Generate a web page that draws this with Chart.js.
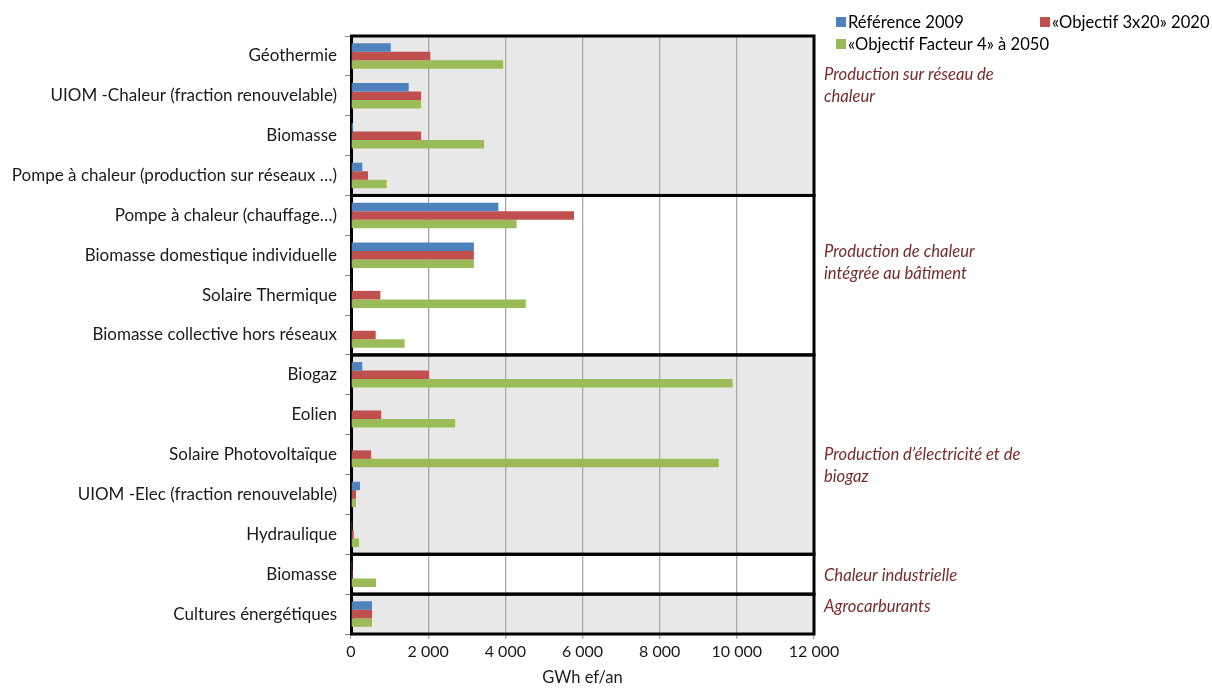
<!DOCTYPE html>
<html>
<head>
<meta charset="utf-8">
<script src="https://cdn.jsdelivr.net/npm/chart.js@4.4.1/dist/chart.umd.min.js"></script>
<style>
  html, body { margin: 0; padding: 0; background: #ffffff; }
  #wrap { width: 1212px; height: 688px; position: relative; }
</style>
</head>
<body>
<div id="wrap"><canvas id="chart" width="1212" height="688"></canvas></div>
<script>
// Energy categories (top to bottom)
const categories = [
  'Géothermie',
  'UIOM -Chaleur (fraction renouvelable)',
  'Biomasse',
  'Pompe à chaleur (production sur réseaux …)',
  'Pompe à chaleur (chauffage…)',
  'Biomasse domestique individuelle',
  'Solaire Thermique',
  'Biomasse collective hors réseaux',
  'Biogaz',
  'Eolien',
  'Solaire Photovoltaïque',
  'UIOM -Elec (fraction renouvelable)',
  'Hydraulique',
  'Biomasse',
  'Cultures énergétiques'
];

// GWh ef/an per scenario
const reference2009 = [1030, 1495, 50, 293, 3820, 3185, 25, 20, 293, 0, 20, 233, 30, 30, 545];
const objectif2020  = [2055, 1815, 1815, 440, 5780, 3185, 760, 640, 2020, 780, 520, 130, 70, 40, 545];
const facteur2050   = [3945, 1815, 3450, 925, 4290, 3185, 4530, 1390, 9890, 2700, 9530, 130, 207, 650, 545];

const seriesLabels = ['Référence 2009', '«Objectif 3x20» 2020', '«Objectif Facteur 4» à 2050'];

// x axis ticks
const xTicks = [0, 2000, 4000, 6000, 8000, 10000, 12000];

// Sector groups: name lines and number of categories in each group
const groupNames = [
  ['Production sur réseau de', 'chaleur'],
  ['Production de chaleur', 'intégrée au bâtiment'],
  ['Production d’électricité et de', 'biogaz'],
  ['Chaleur industrielle'],
  ['Agrocarburants']
];
const groupSizes = [4, 4, 5, 1, 1];

// ---- styling ----
const FONT = 'Lato, "Open Sans", "Liberation Sans", sans-serif';
const COLORS = ['#4f81bd', '#c0504d', '#9bbb59'];
const GROUP_FILLS = ['#e8e8e8', '#ffffff', '#e8e8e8', '#ffffff', '#e8e8e8'];
// vertical offset of each group caption's first line from the group top, in px
const CAPTION_OFFSETS = [39, 56, 100, 21, 13];

function fmt(v) {
  return String(v).replace(/\B(?=(\d{3})+(?!\d))/g, '\u00a0');
}

function groupRanges(yScale) {
  const ranges = [];
  const step = yScale.getPixelForValue(1) - yScale.getPixelForValue(0);
  let start = 0;
  groupSizes.forEach((n, i) => {
    const top = yScale.getPixelForValue(start) - step / 2;
    const bottom = yScale.getPixelForValue(start + n - 1) + step / 2;
    ranges.push({ top, bottom, i });
    start += n;
  });
  return ranges;
}

const groupPlugin = {
  id: 'groups',
  beforeDraw(chart) {
    const { ctx } = chart;
    const x = chart.scales.x, y = chart.scales.y;
    const left = x.getPixelForValue(0), right = x.getPixelForValue(12000);
    ctx.save();
    groupRanges(y).forEach(r => {
      ctx.fillStyle = GROUP_FILLS[r.i];
      ctx.fillRect(left, r.top, right - left, r.bottom - r.top);
    });
    ctx.restore();
  },
  beforeDatasetsDraw(chart) {
    const { ctx } = chart;
    const x = chart.scales.x, y = chart.scales.y;
    const left = x.getPixelForValue(0), right = x.getPixelForValue(12000);
    ctx.save();
    ctx.strokeStyle = '#000000';
    ctx.lineWidth = 3;
    groupRanges(y).forEach(r => {
      ctx.strokeRect(left + 0.5, r.top, right - left - 0.5, r.bottom - r.top);
    });
    ctx.restore();
  },
  afterDraw(chart) {
    const { ctx } = chart;
    const x = chart.scales.x, y = chart.scales.y;
    const right = x.getPixelForValue(12000);
    ctx.save();
    // group captions
    ctx.font = 'italic 16.6px ' + FONT;
    ctx.fillStyle = '#772b2b';
    ctx.textBaseline = 'middle';
    ctx.textAlign = 'left';
    groupRanges(y).forEach(r => {
      groupNames[r.i].forEach((line, k) => {
        ctx.fillText(line, right + 10, r.top + CAPTION_OFFSETS[r.i] + k * 22);
      });
    });
    // legend
    ctx.font = '16.6px ' + FONT;
    const items = [
      { x: 836, y: 22 },
      { x: 1040, y: 22 },
      { x: 836, y: 44 }
    ];
    chart.data.datasets.forEach((ds, i) => {
      const p = items[i];
      ctx.fillStyle = ds.backgroundColor;
      ctx.fillRect(p.x, p.y - 5, 10, 10);
      ctx.fillStyle = '#000000';
      ctx.fillText(ds.label, p.x + 12, p.y + 1);
    });
    ctx.restore();
  }
};

new Chart(document.getElementById('chart'), {
  type: 'bar',
  data: {
    labels: categories,
    datasets: [reference2009, objectif2020, facteur2050].map((d, i) => ({
      label: seriesLabels[i],
      data: d,
      backgroundColor: COLORS[i],
      borderWidth: 0,
      barPercentage: 1,
      categoryPercentage: 0.64
    }))
  },
  options: {
    indexAxis: 'y',
    responsive: false,
    animation: false,
    layout: { padding: { top: 36, right: 398, bottom: 0, left: 0 } },
    plugins: { legend: { display: false }, tooltip: { enabled: false } },
    scales: {
      x: {
        min: 0,
        max: 12000,
        afterBuildTicks(scale) { scale.ticks = xTicks.map(v => ({ value: v })); },
        afterFit(scale) { scale.height = 54; },
        border: { display: false },
        grid: { color: '#a8a8a8', lineWidth: 1.3, tickLength: 5, drawTicks: true },
        ticks: {
          color: '#1a1a1a',
          font: { family: FONT, size: 16 },
          padding: 3,
          maxRotation: 0,
          callback: v => fmt(v)
        },
        title: {
          display: true,
          text: 'GWh ef/an',
          color: '#1a1a1a',
          font: { family: FONT, size: 16.5 },
          padding: { top: 4, bottom: 0 }
        }
      },
      y: {
        afterFit(scale) { scale.width = 351; },
        border: { display: false },
        grid: { drawOnChartArea: false, color: '#888888', tickLength: 6, offset: true },
        ticks: {
          color: '#1a1a1a',
          font: { family: FONT, size: 17 },
          padding: 8,
          autoSkip: false
        }
      }
    }
  },
  plugins: [groupPlugin]
});
</script>
</body>
</html>
